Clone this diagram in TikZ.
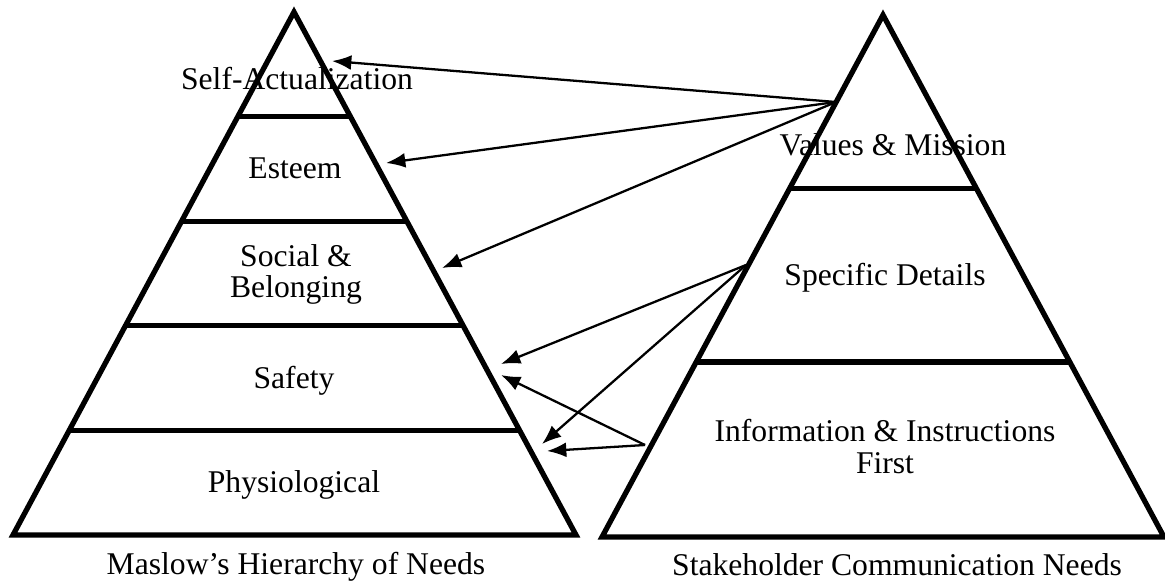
\documentclass[tikz,border=0pt]{standalone}
\usepackage{fontspec}
\setmainfont{Liberation Serif}
\usetikzlibrary{calc, arrows.meta}

\tikzset{
    pyramid/.style={line width=3pt},
    link/.style={->, line width=1.3pt},
    lbl/.style={font=\fontsize{18pt}{18pt}\selectfont, align=center, inner sep=0pt}
}

\begin{document}
\begin{tikzpicture}[x=0.02cm, y=-0.02cm, >={Latex[length=11pt,width=8.5pt]}]
    \useasboundingbox (0,0) rectangle (1165,581);

    % Maslow pyramid, five equal bands
    \coordinate (maslowTop) at (294,12);
    \coordinate (maslowBL) at (13,535);
    \coordinate (maslowBR) at (576,535);
    \draw[pyramid] (maslowTop) -- (maslowBL) -- (maslowBR) -- cycle;
    \foreach \t in {0.2,0.4,0.6,0.8}
        \draw[pyramid] ($(maslowTop)!\t!(maslowBL)$) -- ($(maslowTop)!\t!(maslowBR)$);

    % stakeholder pyramid, three bands
    \coordinate (stakeTop) at (883,15);
    \coordinate (stakeBL) at (602,537);
    \coordinate (stakeBR) at (1164,537);
    \draw[pyramid] (stakeTop) -- (stakeBL) -- (stakeBR) -- cycle;
    \foreach \t in {0.333,0.665}
        \draw[pyramid] ($(stakeTop)!\t!(stakeBL)$) -- ($(stakeTop)!\t!(stakeBR)$);

    % band labels
    \node[lbl, anchor=base] (selfact) at (297,90) {Self-Actualization};
    \node[lbl, anchor=base] (esteem) at (295,178) {Esteem};
    \node[lbl, anchor=north] (social) at (296,244) {Social \&\\Belonging};
    \node[lbl, anchor=base] (safety) at (294,388) {Safety};
    \node[lbl, anchor=base] (physio) at (294,492) {Physiological};

    \node[lbl, anchor=base] (values) at (893,155) {Values \& Mission};
    \node[lbl, anchor=base] (details) at (885,285) {Specific Details};
    \node[lbl, anchor=north] (info) at (885,419) {Information \& Instructions\\First};

    % captions
    \node[lbl, anchor=base] (maslow) at (296,574) {Maslow's Hierarchy of Needs};
    \node[lbl, anchor=base] (stake) at (897,575) {Stakeholder Communication Needs};

    % where the links leave the right pyramid
    \coordinate (srcValues) at (836,102);
    \coordinate (srcDetails) at (746,265);
    \coordinate (srcInfo) at (645,445);

    % where they land on the left pyramid
    \coordinate (tgtSelf) at (332,61);
    \coordinate (tgtEsteem) at (386,163);
    \coordinate (tgtSocial) at (442,268);
    \coordinate (tgtSafetyA) at (501,364);
    \coordinate (tgtSafetyB) at (501,375);
    \coordinate (tgtPhysioA) at (542,444);
    \coordinate (tgtPhysioB) at (547,451);

    \draw[link] (srcValues) -- (tgtSelf);
    \draw[link] (srcValues) -- (tgtEsteem);
    \draw[link] (srcValues) -- (tgtSocial);
    \draw[link] (srcDetails) -- (tgtSafetyA);
    \draw[link] (srcDetails) -- (tgtPhysioA);
    \draw[link] (srcInfo) -- (tgtSafetyB);
    \draw[link] (srcInfo) -- (tgtPhysioB);
\end{tikzpicture}
\end{document}
